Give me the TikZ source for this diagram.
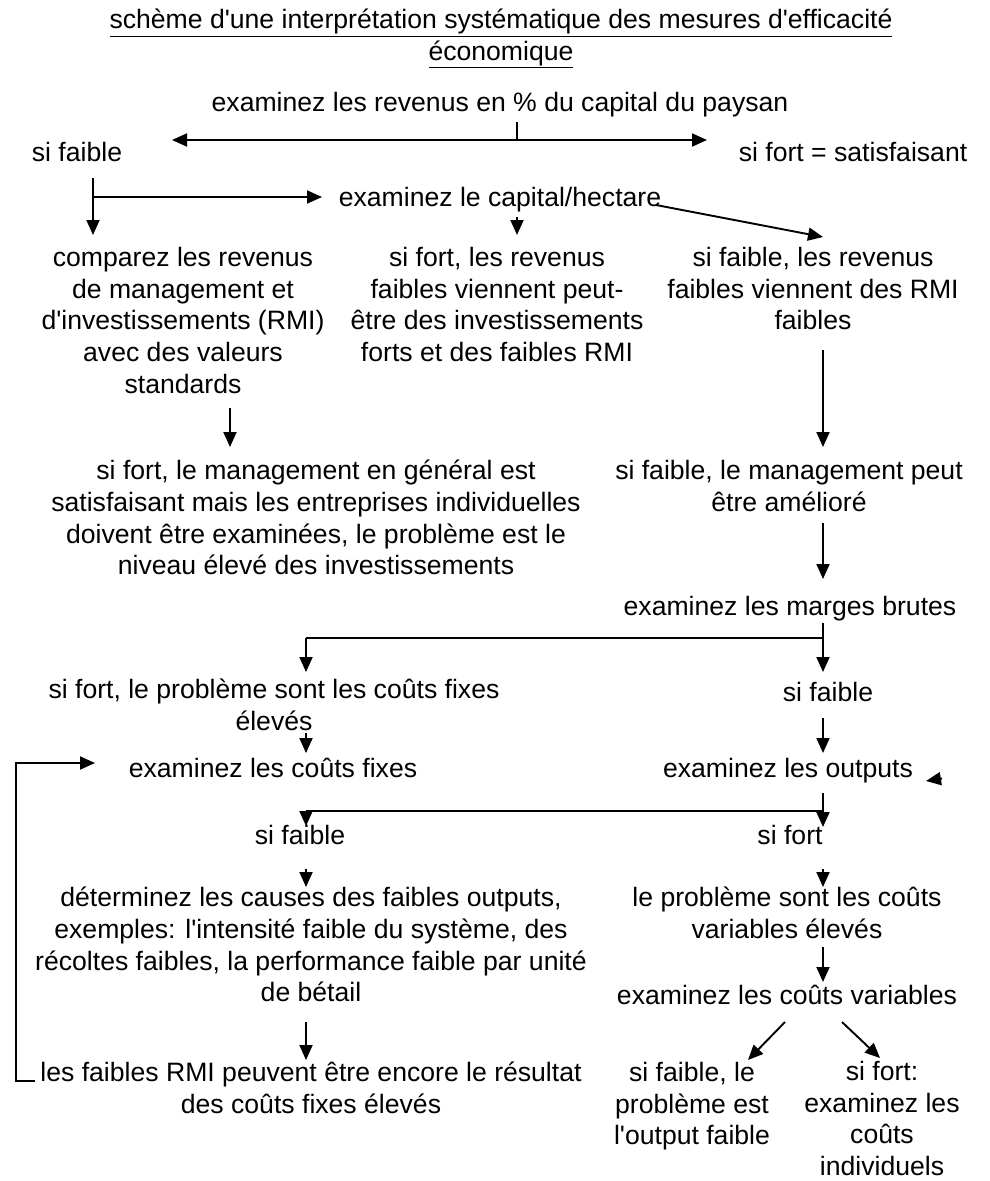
\documentclass[tikz,border=0pt]{standalone}
\usepackage{fontspec}
\setmainfont{Liberation Sans}
\usetikzlibrary{arrows.meta}
\newcommand\diagfont{\fontsize{26.6}{31.7}\selectfont}
\newcommand\ap{\textquotesingle}
\begin{document}
\begin{tikzpicture}[x=1pt,y=-1pt,
  txt/.style={font=\diagfont, align=center, inner sep=0pt, anchor=north,
              execute at begin node=\strut},
  link/.style={line width=1.9pt},
  tip/.tip={Triangle[length=15pt,width=13pt]},
  arr/.style={link, -tip},
  darr/.style={link, tip-tip}]
\useasboundingbox (0,0) rectangle (989,1181);

% text blocks
\node[txt] (title) at (501,9) {\underline{schème d\ap une interprétation systématique des mesures d\ap efficacité}\\\underline{économique}};
\node[txt] (revenus) at (500,89) {examinez les revenus en \% du capital du paysan};
\node[txt] (lowA) at (77,139) {si faible};
\node[txt] (highA) at (853,139) {si fort = satisfaisant};
\node[txt] (capital) at (500,184) {examinez le capital/hectare};
\node[txt] (rmi) at (183,247) {comparez les revenus\\de management et\\d\ap investissements (RMI)\\avec des valeurs\\standards};
\node[txt] (capHigh) at (497,247) {si fort, les revenus\\faibles viennent peut-\\être des investissements\\forts et des faibles RMI};
\node[txt] (capLow) at (813,247) {si faible, les revenus\\faibles viennent des RMI\\faibles};
\node[txt] (rmiHigh) at (316,460) {si fort, le management en général est\\satisfaisant mais les entreprises individuelles\\doivent être examinées, le problème est le\\niveau élevé des investissements};
\node[txt] (rmiLow) at (789,460) {si faible, le management peut\\être amélioré};
\node[txt] (marges) at (790,593) {examinez les marges brutes};
\node[txt] (mbHigh) at (274,679) {si fort, le problème sont les coûts fixes\\élevés};
\node[txt] (mbLow) at (828,679) {si faible};
\node[txt] (fixes) at (273,755) {examinez les coûts fixes};
\node[txt] (outputs) at (788,755) {examinez les outputs};
\node[txt] (outLow) at (300,822) {si faible};
\node[txt] (outHigh) at (790,822) {si fort};
\node[txt] (causes) at (311,887) {déterminez les causes des faibles outputs,\\exemples: l\ap intensité faible du système, des\\récoltes faibles, la performance faible par unité\\de bétail};
\node[txt] (varHigh) at (787,887) {le problème sont les coûts\\variables élevés};
\node[txt] (variables) at (787,982) {examinez les coûts variables};
\node[txt] (fixesAgain) at (311,1062) {les faibles RMI peuvent être encore le résultat\\des coûts fixes élevés};
\node[txt] (varLow) at (692,1062) {si faible, le\\problème est\\l\ap output faible};
\node[txt] (varIndiv) at (882,1061) {si fort:\\examinez les\\coûts\\individuels};

% junction and end points of the connectors
\coordinate (t0) at (517,122);  \coordinate (t1) at (517,140);
\coordinate (dL) at (172,140);  \coordinate (dR) at (707,140);
\coordinate (c0) at (93,178);   \coordinate (c1) at (93,197);
\coordinate (c2) at (93,235);   \coordinate (c3) at (322,197);
\coordinate (e0) at (517,217);  \coordinate (e1) at (517,235);
\coordinate (f0) at (656,205);  \coordinate (f1) at (823,237);
\coordinate (g0) at (230,408);  \coordinate (g1) at (230,447);
\coordinate (h0) at (823,350);  \coordinate (h1) at (823,447);
\coordinate (i0) at (823,523);  \coordinate (i1) at (823,579);
\coordinate (j0) at (823,623);  \coordinate (j1) at (823,638);
\coordinate (j2) at (823,672);  \coordinate (j3) at (306,638);
\coordinate (j4) at (306,672);
\coordinate (k0) at (306,733);  \coordinate (k1) at (306,753);
\coordinate (l0) at (823,718);  \coordinate (l1) at (823,753);
\coordinate (m0) at (35,1081);  \coordinate (m1) at (16,1081);
\coordinate (m2) at (16,763);   \coordinate (m3) at (95,763);
\coordinate (n0) at (823,793);  \coordinate (n1) at (823,811);
\coordinate (n2) at (823,827);  \coordinate (n3) at (306,811);
\coordinate (n4) at (306,826);
\coordinate (o0) at (306,869);  \coordinate (o1) at (306,887);
\coordinate (o2) at (823,869);  \coordinate (o3) at (823,887);
\coordinate (p0) at (823,947);  \coordinate (p1) at (823,982);
\coordinate (q0) at (306,1022); \coordinate (q1) at (306,1060);
\coordinate (r0) at (785,1022); \coordinate (r1) at (748,1060);
\coordinate (r2) at (842,1022); \coordinate (r3) at (880,1058);
\coordinate (s0) at (942,778.5); \coordinate (s1) at (926,781);

% connectors
\draw[link] (t0) -- (t1);
\draw[darr] (dL) -- (dR);
\draw[arr] (c0) -- (c2);
\draw[arr] (c1) -- (c3);
\draw[arr] (e0) -- (e1);
\draw[arr] (f0) -- (f1);
\draw[arr] (g0) -- (g1);
\draw[arr] (h0) -- (h1);
\draw[arr] (i0) -- (i1);
\draw[arr] (j0) -- (j2);
\draw[link] (j1) -- (j3);
\draw[arr] (j3) -- (j4);
\draw[arr] (k0) -- (k1);
\draw[arr] (l0) -- (l1);
\draw[arr] (m0) -- (m1) -- (m2) -- (m3);
\draw[arr] (n0) -- (n2);
\draw[link] (n1) -- (n3);
\draw[arr] (n3) -- (n4);
\draw[arr] (o0) -- (o1);
\draw[arr] (o2) -- (o3);
\draw[arr] (p0) -- (p1);
\draw[arr] (q0) -- (q1);
\draw[arr] (r0) -- (r1);
\draw[arr] (r2) -- (r3);
\draw[arr] (s0) -- (s1);
\end{tikzpicture}
\end{document}
